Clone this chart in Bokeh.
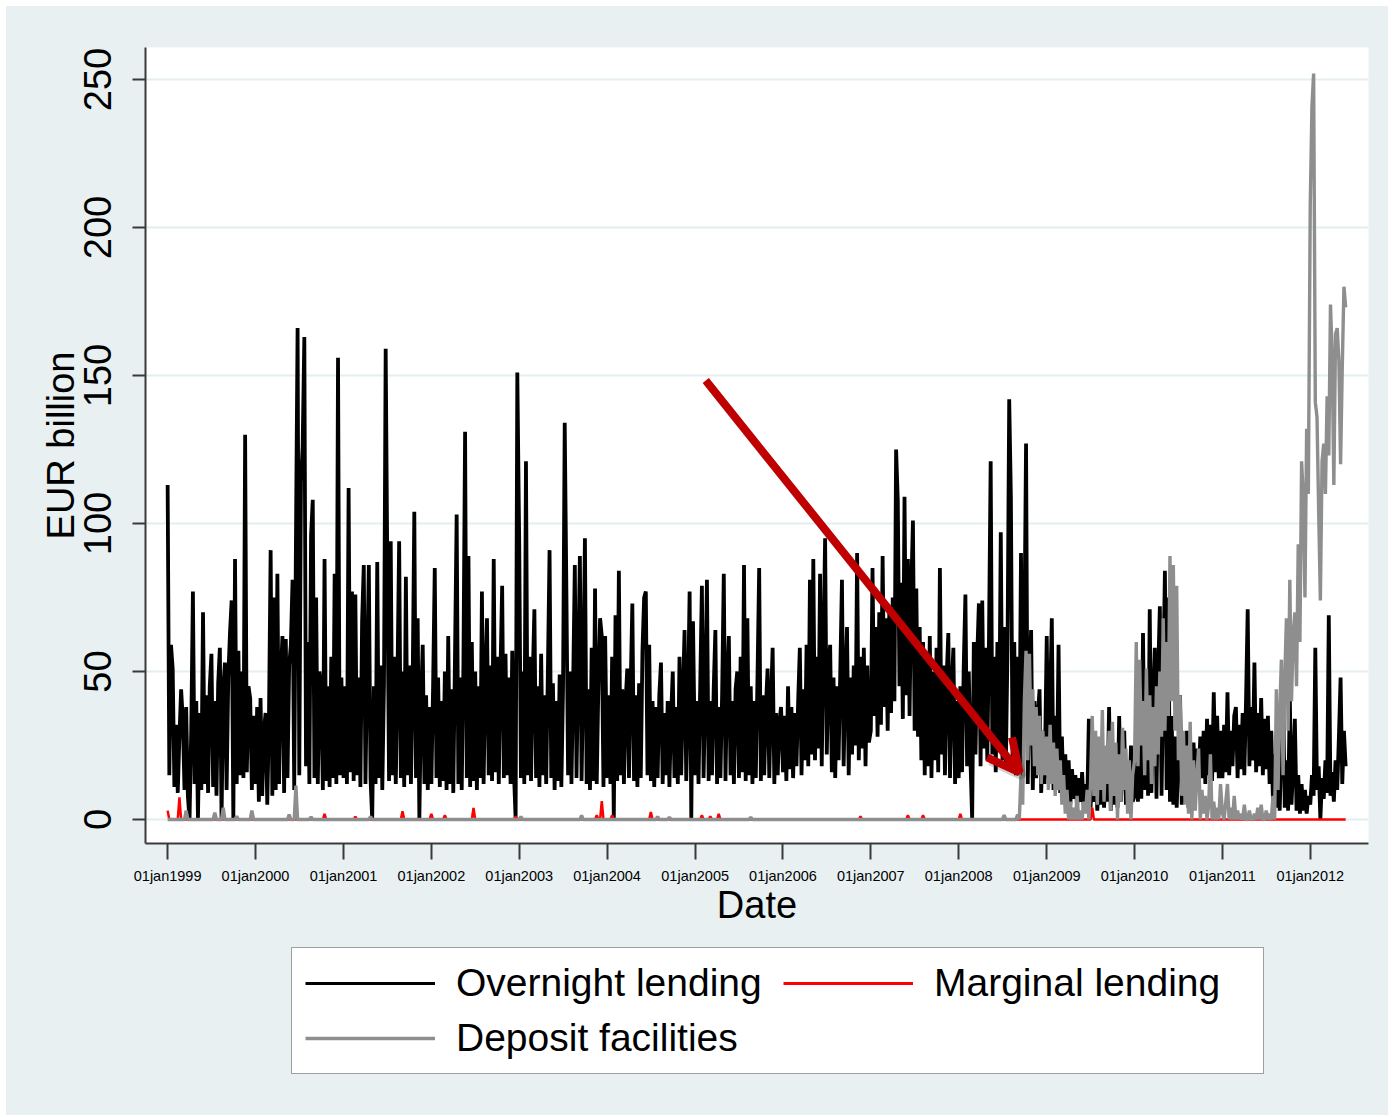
import numpy as np
import pandas as pd
from bokeh.plotting import figure
from bokeh.models import (Range1d, FixedTicker, Legend, LegendItem, Arrow,
                          OpenHead, Spacer, ColumnDataSource)
from bokeh.layouts import row, column
from bokeh.embed import file_html
from bokeh.resources import INLINE

# ---------------------------------------------------------------------------
# Eurosystem standing facilities, EUR billion (one value per week of each year,
# week i dated 1 January + 7*i days)
# ---------------------------------------------------------------------------
overnight_1999 = [113, 15, 59, 51, 11, 32, 9, 28, 44, 34, 10, 38, 8,
                  0, 30, 77, 12, 40, 0, 36, 10, 70, 12, 42, 9, 45,
                  56, 11, 40, 8, 46, 58, 0, 44, 53, 10, 48, 63, 74,
                  0, 88, 12, 57, 15, 50, 14, 130, 16, 45, 41, 10, 35]
overnight_2000 = [12, 38, 6, 41, 8, 30, 36, 5, 34, 91, 8, 75, 10,
                  83, 12, 48, 62, 9, 61, 14, 52, 59, 81, 10, 93, 166,
                  15, 114, 126, 163, 18, 60, 12, 96, 108, 14, 75, 12, 50,
                  43, 10, 88, 13, 45, 11, 55, 14, 83, 12, 156, 15, 48]
overnight_2001 = [14, 45, 12, 112, 16, 77, 13, 76, 15, 48, 11, 67, 86,
                  12, 50, 86, 14, 0, 45, 12, 87, 14, 52, 10, 46, 159,
                  83, 13, 94, 15, 55, 12, 48, 94, 14, 50, 11, 82, 15,
                  52, 12, 45, 104, 14, 68, 0, 40, 59, 12, 42, 10, 38]
overnight_2002 = [12, 45, 85, 14, 48, 11, 40, 13, 50, 10, 62, 12, 44,
                  9, 55, 103, 12, 48, 10, 52, 131, 14, 89, 11, 60, 13,
                  50, 10, 45, 14, 77, 12, 48, 68, 15, 52, 13, 88, 16,
                  55, 12, 50, 79, 14, 56, 15, 48, 12, 57, 16, 0, 151]
overnight_2003 = [93, 14, 50, 12, 121, 15, 55, 13, 48, 71, 14, 45, 11,
                  56, 15, 42, 12, 50, 91, 14, 46, 10, 40, 13, 49, 11,
                  44, 134, 77, 15, 50, 12, 46, 86, 14, 52, 89, 13, 48,
                  95, 12, 44, 10, 58, 13, 78, 12, 46, 68, 62, 11, 62]
overnight_2004 = [14, 42, 12, 55, 0, 69, 13, 84, 15, 44, 12, 40, 51,
                  14, 45, 73, 13, 42, 11, 46, 14, 57, 75, 77, 15, 59,
                  13, 40, 11, 38, 14, 42, 53, 12, 36, 15, 40, 11, 35,
                  50, 14, 38, 12, 55, 15, 42, 64, 13, 40, 77, 0, 67]
overnight_2005 = [15, 40, 12, 45, 79, 14, 42, 81, 13, 40, 15, 44, 64,
                  12, 38, 14, 42, 83, 13, 46, 62, 15, 40, 12, 44, 50,
                  14, 55, 16, 86, 13, 68, 15, 45, 12, 40, 14, 48, 85,
                  13, 42, 15, 38, 51, 14, 40, 58, 12, 36, 15, 33, 38]
overnight_2006 = [16, 35, 13, 45, 17, 38, 14, 36, 18, 40, 58, 15, 44,
                  20, 59, 18, 81, 22, 88, 20, 55, 24, 83, 18, 58, 95,
                  22, 52, 59, 16, 48, 14, 45, 20, 50, 81, 18, 46, 65,
                  15, 48, 22, 52, 25, 90, 20, 55, 24, 58, 18, 52, 26]
overnight_2007 = [30, 85, 35, 65, 28, 70, 32, 89, 38, 68, 30, 72, 36,
                  75, 40, 125, 108, 45, 80, 34, 109, 42, 88, 35, 78, 101,
                  30, 78, 28, 65, 20, 60, 15, 55, 18, 62, 14, 50, 20,
                  58, 16, 85, 22, 52, 15, 48, 63, 14, 45, 58, 12, 40]
overnight_2008 = [14, 45, 16, 52, 76, 18, 50, 20, 0, 60, 22, 55, 73,
                  18, 74, 24, 58, 20, 62, 121, 22, 55, 16, 60, 25, 97,
                  20, 65, 18, 58, 142, 109, 20, 60, 15, 55, 18, 90, 14,
                  62, 127, 12, 48, 64, 10, 40, 14, 35, 44, 9, 30, 12]
overnight_2009 = [62, 14, 40, 68, 10, 35, 12, 59, 9, 28, 8, 22, 6,
                  20, 5, 17, 7, 15, 4, 14, 6, 16, 3, 12, 5, 34,
                  4, 15, 6, 18, 3, 14, 5, 20, 4, 16, 6, 38, 3,
                  18, 5, 22, 4, 35, 6, 20, 30, 5, 18, 4, 25, 6]
overnight_2010 = [8, 30, 6, 40, 7, 63, 10, 45, 8, 71, 9, 40, 58,
                  7, 50, 72, 8, 45, 84, 10, 75, 6, 35, 5, 28, 4,
                  22, 42, 5, 25, 6, 30, 4, 22, 8, 26, 10, 24, 12,
                  28, 14, 30, 12, 34, 15, 32, 13, 43, 16, 35, 14, 30]
overnight_2011 = [14, 32, 16, 43, 15, 30, 18, 35, 38, 14, 32, 17, 36,
                  15, 40, 71, 18, 38, 20, 53, 16, 36, 18, 41, 15, 34,
                  17, 35, 12, 30, 6, 22, 4, 30, 3, 25, 45, 4, 20,
                  3, 42, 5, 18, 34, 3, 15, 2, 12, 3, 10, 2, 8]
overnight_2012 = [5, 15, 8, 58, 10, 18, 0, 14, 7, 20, 9, 69, 8,
                  16, 6, 20, 10, 28, 48, 12, 30, 18]

# deposit facility: weekly values from week 36 of 2008 onwards
deposit_2008_wk36 = [0, 15, 5, 40, 57, 20, 56, 25, 44, 18, 38, 15, 35, 12, 30, 15]
deposit_2009 = [28, 10, 32, 12, 26, 8, 24, 10, 20, 5, 15, 2, 10,
                0, 6, 0, 4, 0, 8, 0, 3, 0, 6, 2, 10, 0,
                12, 35, 8, 30, 5, 28, 10, 37, 6, 25, 12, 30, 3,
                33, 8, 26, 0, 22, 6, 31, 10, 24, 2, 20, 0, 15]
deposit_2010 = [20, 60, 18, 54, 25, 40, 15, 51, 20, 42, 12, 38, 18,
                45, 22, 50, 28, 68, 30, 60, 35, 89, 40, 86, 30, 79,
                20, 42, 8, 30, 5, 25, 2, 33, 0, 20, 3, 15, 24,
                0, 10, 2, 8, 0, 5, 22, 0, 6, 0, 4, 0, 12]
deposit_2011 = [2, 0, 6, 12, 0, 4, 0, 8, 0, 3, 0, 2, 0,
                5, 0, 0, 3, 0, 0, 2, 0, 4, 0, 5, 0, 0,
                3, 0, 2, 0, 8, 0, 44, 10, 36, 54, 15, 48, 68,
                30, 81, 40, 62, 70, 45, 93, 60, 121, 109, 75, 132, 110]
deposit_2012 = [208, 241, 252, 141, 136, 104, 74, 121, 127, 110, 143, 123, 174,
                157, 113, 164, 166, 155, 120, 153, 180, 173]

# occasional small recourse before the crisis (all other weeks are zero)
deposit_spike_dates = ["1999-03-19", "1999-07-16", "1999-08-20", "1999-10-15",
                       "1999-12-17", "2000-05-20", "2000-06-17", "2000-08-19",
                       "2001-04-23", "2003-01-08", "2003-09-17", "2004-07-29",
                       "2004-09-16", "2005-08-20", "2008-07-08", "2008-09-02"]
deposit_spike_values = [3.0, 2.3, 4.0, 1.1, 3.0, 1.7, 11.5, 0.9,
                        1.0, 1.0, 1.4, 1.0, 0.8, 0.8, 1.5, 1.7]

marginal_spike_dates = ["1999-01-01", "1999-02-19", "2000-10-14", "2001-02-19",
                        "2001-09-03", "2002-01-01", "2002-02-26", "2002-06-25",
                        "2002-12-17", "2003-11-19", "2003-12-10", "2004-01-22",
                        "2004-07-01", "2005-01-29", "2005-03-05", "2005-04-09",
                        "2006-11-19", "2007-06-04", "2007-08-06", "2008-01-08",
                        "2009-07-09"]
marginal_spike_values = [3.0, 7.5, 1.9, 1.0, 2.8, 1.9, 1.5, 3.9, 1.1, 1.5, 6.2,
                         1.5, 2.5, 1.5, 1.1, 1.9, 1.1, 1.5, 1.5, 1.9, 4.0]

tick_years = [1999, 2000, 2001, 2002, 2003, 2004, 2005,
              2006, 2007, 2008, 2009, 2010, 2011, 2012]
tick_labels = ["01jan1999", "01jan2000", "01jan2001", "01jan2002", "01jan2003",
               "01jan2004", "01jan2005", "01jan2006", "01jan2007", "01jan2008",
               "01jan2009", "01jan2010", "01jan2011", "01jan2012"]


# ---------------------------------------------------------------------------
# assemble the weekly series
# ---------------------------------------------------------------------------
def weekly_dates(year, n, first_week=0):
    start = pd.Timestamp(year=year, month=1, day=1)
    return [start + pd.Timedelta(days=7 * (first_week + i)) for i in range(n)]


overnight_years = [(1999, overnight_1999), (2000, overnight_2000), (2001, overnight_2001),
                   (2002, overnight_2002), (2003, overnight_2003), (2004, overnight_2004),
                   (2005, overnight_2005), (2006, overnight_2006), (2007, overnight_2007),
                   (2008, overnight_2008), (2009, overnight_2009), (2010, overnight_2010),
                   (2011, overnight_2011), (2012, overnight_2012)]

dates, overnight = [], []
for yr, vals in overnight_years:
    dates += weekly_dates(yr, len(vals))
    overnight += vals
dates = pd.DatetimeIndex(dates)
index_of = {d: i for i, d in enumerate(dates)}

deposit = np.zeros(len(dates))
for yr, wk, vals in [(2008, 36, deposit_2008_wk36), (2009, 0, deposit_2009),
                     (2010, 0, deposit_2010), (2011, 0, deposit_2011),
                     (2012, 0, deposit_2012)]:
    for d, v in zip(weekly_dates(yr, len(vals), wk), vals):
        deposit[index_of[d]] = v


def nearest(date_str):
    return int(np.argmin(np.abs((dates - pd.Timestamp(date_str)).days)))


for d, v in zip(deposit_spike_dates, deposit_spike_values):
    deposit[nearest(d)] = v

marginal = np.zeros(len(dates))
for d, v in zip(marginal_spike_dates, marginal_spike_values):
    marginal[nearest(d)] = v

src = ColumnDataSource(dict(date=dates, overnight=overnight,
                            marginal=marginal, deposit=deposit))

# ---------------------------------------------------------------------------
# styles
# ---------------------------------------------------------------------------
FONT = "Liberation Sans"
BG = "#E8F0F2"
AXIS = "#3A3A3A"
C_OVER = "black"
C_MARG = "#FF0000"
C_DEP = "#8E8E8E"

# ---------------------------------------------------------------------------
# main chart
# ---------------------------------------------------------------------------
p = figure(width=1382, height=929, x_axis_type="datetime",
           output_backend="svg", toolbar_location=None,
           x_range=Range1d(pd.Timestamp("1998-10-01"), pd.Timestamp("2012-08-30")),
           y_range=Range1d(-8.1, 260.8),
           min_border_left=139, min_border_right=20,
           min_border_top=41, min_border_bottom=92)
p.border_fill_color = BG
p.background_fill_color = "white"
p.outline_line_color = None

p.line("date", "overnight", source=src, line_color=C_OVER, line_width=3.8)
p.line("date", "marginal", source=src, line_color=C_MARG, line_width=2.5)
p.line("date", "deposit", source=src, line_color=C_DEP, line_width=3.4)

# axes
tick_ms = [pd.Timestamp(year=y, month=1, day=1).value // 10**6 for y in tick_years]
p.xaxis.ticker = FixedTicker(ticks=tick_ms)
p.xaxis.major_label_overrides = dict(zip(tick_ms, tick_labels))
p.xaxis.axis_label = "Date"
p.xaxis.major_label_text_font_size = "14.5px"
p.xaxis.major_tick_out = 16
p.xaxis.major_label_standoff = 8
p.xaxis.axis_label_standoff = -3

p.yaxis.ticker = FixedTicker(ticks=[0, 50, 100, 150, 200, 250])
p.yaxis.axis_label = "EUR billion"
p.yaxis.major_label_orientation = "vertical"
p.yaxis.major_label_text_font_size = "38px"
p.yaxis.major_tick_out = 13
p.yaxis.major_label_standoff = 21
p.yaxis.axis_label_standoff = 0

for ax in (p.xaxis, p.yaxis):
    ax.axis_line_color = AXIS
    ax.axis_line_width = 2
    ax.major_tick_line_color = AXIS
    ax.major_tick_line_width = 2
    ax.major_tick_in = 0
    ax.minor_tick_line_color = None
    ax.major_label_text_font = FONT
    ax.major_label_text_color = "black"
    ax.axis_label_text_font = FONT
    ax.axis_label_text_font_size = "38px"
    ax.axis_label_text_font_style = "normal"
    ax.axis_label_text_color = "black"

p.xgrid.grid_line_color = None
p.ygrid.grid_line_color = "#E4EDF0"
p.ygrid.grid_line_width = 2

# arrow pointing at the jump in deposit-facility recourse
ms = lambda s: pd.Timestamp(s).value / 1e6
shadow = Arrow(end=OpenHead(line_color="#000000", line_alpha=0.18, line_width=8, size=32),
               x_start=ms("2005-02-26"), y_start=147.0, x_end=ms("2008-09-22"), y_end=14.6,
               line_color="#000000", line_alpha=0.18, line_width=8)
arrow = Arrow(end=OpenHead(line_color="#C00000", line_width=8, size=32),
              x_start=ms("2005-02-14"), y_start=148.3, x_end=ms("2008-09-10"), y_end=15.9,
              line_color="#C00000", line_width=8)
p.add_layout(shadow)
p.add_layout(arrow)

# ---------------------------------------------------------------------------
# legend strip under the chart (its frame lines up with the chart's frame)
# ---------------------------------------------------------------------------
leg = figure(width=1382, height=180, output_backend="svg", toolbar_location=None,
             x_range=Range1d(0, 1), y_range=Range1d(0, 1),
             x_axis_location=None, y_axis_location=None, min_border=0)
leg.background_fill_color = None
leg.border_fill_color = BG
leg.outline_line_color = None
leg.grid.visible = False

# key glyphs (their single segment lies outside the visible range)
k_over = leg.line(x=[-5, -4], y=[-5, -4], line_color=C_OVER, line_width=3)
k_marg = leg.line(x=[-5, -4], y=[-5, -4], line_color=C_MARG, line_width=3)
k_dep = leg.line(x=[-5, -4], y=[-5, -4], line_color=C_DEP, line_width=3.5)

legend = Legend(items=[LegendItem(label="Overnight lending", renderers=[k_over]),
                       LegendItem(label="Marginal lending", renderers=[k_marg]),
                       LegendItem(label="Deposit facilities", renderers=[k_dep])],
                location=(146, 41), orientation="horizontal", ncols=2,
                glyph_width=130, glyph_height=44, label_height=44, label_width=316,
                label_standoff=21, spacing=11, padding=13, margin=0,
                label_text_font=FONT, label_text_font_size="39px",
                label_text_color="black",
                border_line_color="#404040", border_line_width=1.5,
                background_fill_color="white", background_fill_alpha=1.0)
leg.add_layout(legend)

chart = column(p, leg, styles={"background-color": BG})
page = column(Spacer(height=6), row(Spacer(width=6), chart))
open("out.html", "w").write(file_html(page, INLINE))
